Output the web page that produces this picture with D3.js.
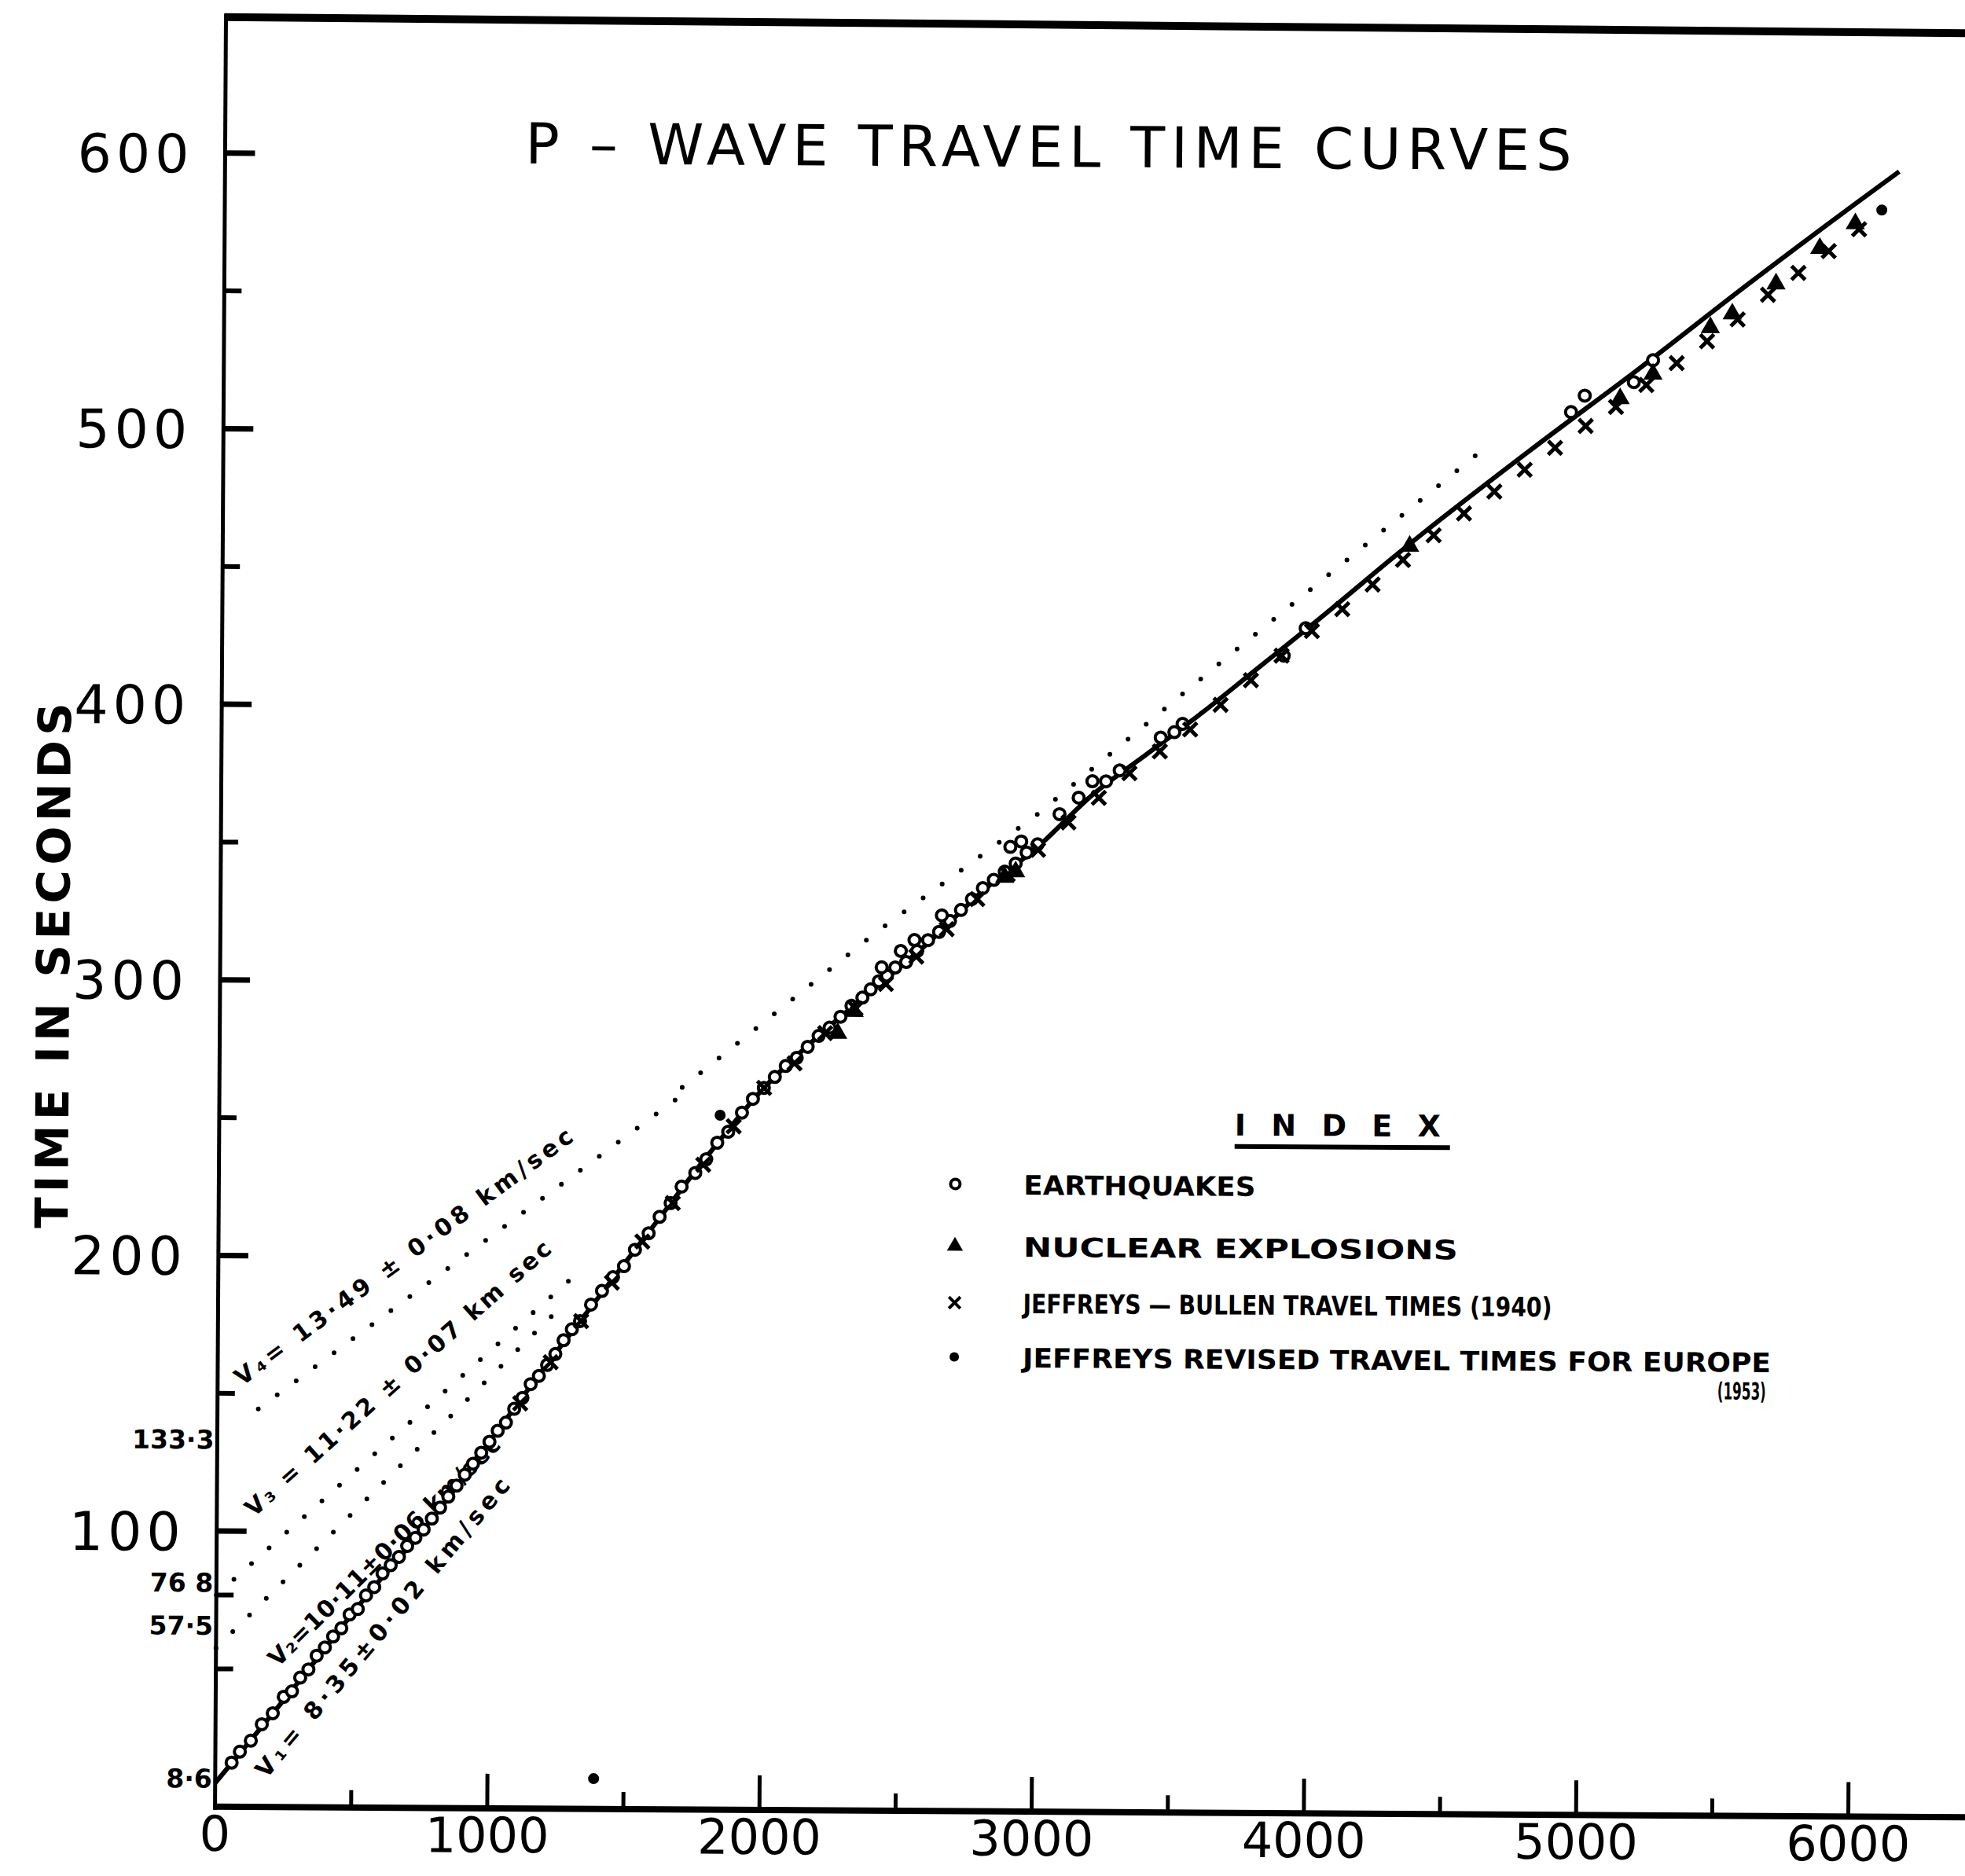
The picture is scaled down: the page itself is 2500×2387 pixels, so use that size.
<!DOCTYPE html>
<html>
<head>
<meta charset="utf-8">
<script src="https://cdn.jsdelivr.net/npm/d3@7"></script>
<style>
  html, body { margin: 0; padding: 0; background: #fff; }
  svg { display: block; }
</style>
</head>
<body>
<svg id="chart" width="2500" height="2387"></svg>
<script>
// ---- axis ticks and labels ----
const xTickValues = [0, 1000, 2000, 3000, 4000, 5000, 6000];
const xMinorTicks = [500, 1500, 2500, 3500, 4500, 5500];
const yTickValues = [100, 200, 300, 400, 500, 600];
const yMinorTicks = [50, 76.8, 150, 250, 350, 450, 550];
const interceptValues = [133.3, 76.8, 57.5, 8.6];
const interceptTexts = ["133·3", "76 8", "57·5", "8·6"];

// ---- segment velocities (km/sec) and intercept times (sec) ----
const segNames = ["V₁= 8·35±0·02 km/sec", "V₂=10·11±0·06 km/sec", "V₃ = 11·22 ± 0·07 km sec", "V₄= 13·49 ± 0·08 km/sec"];
const segVelocity = [8.35, 10.11, 11.22, 13.49];
const segIntercept = [8.6, 57.5, 76.8, 133.3];
const segDottedFrom = [null, 0, 0, 150];      // km where the dotted extension starts
const segDottedTo = [null, 1250, 1300, 1700];  // km where it ends
const segLabelDist = [188, 228, 136, 90];      // km at label start
const segLabelTime = [10, 50.5, 104.9, 152.5];
const segLabelLength = [486, 401, 510, 527];

// upper dotted trend (km, sec)
const trendDist = [1700, 2400, 3000, 3700, 4600];
const trendTime = [262, 318, 362, 420, 493];

// ---- fitted travel-time curve (km, sec) ----
const curveDist = [0, 300, 562, 800, 1000, 1200, 1400, 1600, 1800, 2000, 2200, 2400, 2600, 2800, 3000, 3200, 3400, 3600, 3800, 4000, 4400, 4800, 5200, 5600, 6000, 6150];
const curveTime = [8.6, 45, 78, 106, 133, 160, 186, 212, 238, 262, 281, 298, 315, 334, 350, 369, 384, 399, 415, 431, 464, 495, 525, 556, 586, 597];

// ---- observations ----
// earthquakes
const quakeDist = [60, 90, 130, 170, 210, 250, 280, 310, 340, 370, 400, 430, 460, 490, 520, 550, 580, 610, 640, 670, 700, 730, 760, 790, 820, 850, 880, 910, 940, 970, 1000, 1030, 1060, 1090, 1120, 1150, 1180, 1210, 1240, 1270, 1300, 1330, 1370, 1410, 1450, 1490, 1530, 1580, 1620, 1660, 1700, 1750, 1790, 1830, 1870, 1920, 1960, 2000, 2040, 2080, 2120, 2160, 2200, 2240, 2280, 2320, 2360, 2390, 2420, 2450, 2480, 2520, 2560, 2600, 2640, 2680, 2720, 2760, 2800, 2840, 2880, 2920, 2960, 3000,
  2430, 2500, 2550, 2650, 2900, 2940, 3080, 3150, 3200, 3250, 3300, 3450, 3500, 3530, 3900, 3980, 4950, 5000, 5180, 5250];
const quakeTime = [16, 20, 24, 30, 34, 40, 42, 47, 50, 55, 58, 62, 65, 70, 72, 77, 80, 85, 88, 91, 95, 98, 101, 105, 109, 113, 117, 121, 125, 129, 133, 137, 140, 145, 149, 154, 157, 161, 165, 170, 174, 177, 183, 188, 193, 197, 203, 209, 215, 220, 226, 231, 236, 242, 246, 253, 258, 262, 266, 270, 273, 277, 281, 284, 288, 292, 295, 298, 301, 303, 306, 308, 312, 316, 319, 323, 327, 331, 335, 338, 341, 344, 348, 351,
  306, 312, 316, 325, 350, 352, 362, 368, 374, 374, 378, 390, 392, 395, 420, 430, 509, 515, 520, 528];
// nuclear explosions
const nuclearDist = [2270, 2330, 2880, 2920, 4360, 5130, 5250, 5460, 5540, 5700, 5860, 5990];
const nuclearTime = [282, 290, 339, 341, 460, 514, 523, 540, 545, 556, 569, 578];
// Jeffreys-Bullen (1940)
const jbDist = [1112, 1223, 1334, 1446, 1557, 1668, 1779, 1890, 2001, 2112, 2224, 2335, 2446, 2557, 2668, 2780, 2891, 3002, 3113, 3224, 3336, 3447, 3558, 3669, 3780, 3892, 4003, 4114, 4225, 4336, 4448, 4559, 4670, 4781, 4892, 5004, 5115, 5226, 5337, 5448, 5560, 5671, 5782, 5893, 6004];
const jbTime = [147, 162, 177, 191, 206, 220, 234, 248, 262, 271, 282, 291, 300, 310, 320, 331, 340, 349, 359, 368, 377, 385, 393, 402, 411, 420, 429, 437, 446, 455, 464, 472, 480, 488, 496, 504, 511, 519, 527, 535, 543, 552, 560, 568, 576];
// Jeffreys revised, Europe (1953)
const europeDist = [1390, 1840, 6087];
const europeTime = [11, 252, 583];

const legendTexts = ["EARTHQUAKES", "NUCLEAR  EXPLOSIONS", "JEFFREYS — BULLEN  TRAVEL  TIMES (1940)", "JEFFREYS  REVISED  TRAVEL  TIMES  FOR  EUROPE"];

// ---- drawing ----
const svg = d3.select("#chart");
svg.append("rect").attr("width", 2500).attr("height", 2387).attr("fill", "#fff");

const x = d3.scaleLinear().domain([0, 6000]).range([280, 2358]);
const y = d3.scaleLinear().domain([0, 600]).range([2305, 201]);

// the whole sheet sits a touch off square
const g = svg.append("g").attr("transform", "rotate(0.35,1300,1250)");

const ink = "#000";
const font = "'DejaVu Sans', sans-serif";

// frame: top rule, left axis, bottom axis
g.append("line").attr("x1", x(0) - 2).attr("y1", 28).attr("x2", 2540).attr("y2", 35)
  .attr("stroke", ink).attr("stroke-width", 10);
g.append("line").attr("x1", x(0)).attr("y1", 24).attr("x2", x(0)).attr("y2", y(0) + 4)
  .attr("stroke", ink).attr("stroke-width", 5);
g.append("line").attr("x1", x(0) - 2).attr("y1", y(0)).attr("x2", 2540).attr("y2", y(0))
  .attr("stroke", ink).attr("stroke-width", 8);

// y ticks (drawn inward)
g.selectAll(".ytick").data(yTickValues).join("line")
  .attr("x1", x(0)).attr("x2", x(0) + 38).attr("y1", d => y(d)).attr("y2", d => y(d))
  .attr("stroke", ink).attr("stroke-width", 7);
g.selectAll(".ymtick").data(yMinorTicks).join("line")
  .attr("x1", x(0)).attr("x2", x(0) + 22).attr("y1", d => y(d)).attr("y2", d => y(d))
  .attr("stroke", ink).attr("stroke-width", 6);
g.selectAll(".ylab").data(yTickValues).join("text")
  .attr("x", x(0) - 40).attr("y", d => y(d) + 25)
  .attr("text-anchor", "end").attr("font-family", font).attr("font-size", 68)
  .attr("letter-spacing", 6).attr("fill", ink).text(d => d);
const interceptNudge = [0, -16, -29, -6];
g.selectAll(".ilab").data(interceptValues).join("text")
  .attr("x", x(0) - 4).attr("y", (d, i) => y(d) + 12 + interceptNudge[i])
  .attr("text-anchor", "end").attr("font-family", font).attr("font-weight", "bold")
  .attr("font-size", 33).attr("fill", ink).text((d, i) => interceptTexts[i]);

// x ticks (drawn upward)
g.selectAll(".xtick").data(xTickValues.slice(1)).join("line")
  .attr("x1", d => x(d)).attr("x2", d => x(d)).attr("y1", y(0)).attr("y2", y(0) - 44)
  .attr("stroke", ink).attr("stroke-width", 5);
g.selectAll(".xmtick").data(xMinorTicks).join("line")
  .attr("x1", d => x(d)).attr("x2", d => x(d)).attr("y1", y(0)).attr("y2", y(0) - 22)
  .attr("stroke", ink).attr("stroke-width", 5);
g.selectAll(".xlab").data(xTickValues).join("text")
  .attr("x", d => x(d)).attr("y", y(0) + 56)
  .attr("text-anchor", "middle").attr("font-family", font).attr("font-size", 62)
  .attr("fill", ink).text(d => d);

// axis title and chart title
g.append("text").attr("transform", "translate(88,1236) rotate(-90)")
  .attr("text-anchor", "middle").attr("font-family", font).attr("font-weight", "bold")
  .attr("font-size", 58).attr("textLength", 669).attr("lengthAdjust", "spacing")
  .attr("fill", ink).text("TIME IN SECONDS");
g.append("text").attr("x", 662).attr("y", 212)
  .attr("font-family", font).attr("font-size", 72)
  .attr("textLength", 1331).attr("lengthAdjust", "spacing")
  .attr("fill", ink).text("P – WAVE  TRAVEL  TIME  CURVES");

// dotted extensions of the straight segments
const dotted = (pts) => g.append("path").attr("d", d3.line()(pts))
  .attr("fill", "none").attr("stroke", ink).attr("stroke-width", 6)
  .attr("stroke-linecap", "round").attr("stroke-dasharray", "0 30");
segVelocity.forEach((v, i) => {
  if (segDottedFrom[i] === null) return;
  const d0 = segDottedFrom[i], d1 = segDottedTo[i];
  dotted([[x(d0), y(segIntercept[i] + d0 / v)], [x(d1), y(segIntercept[i] + d1 / v)]]);
});
dotted(trendDist.map((d, i) => [x(d), y(trendTime[i])]));

// segment labels along their lines
segVelocity.forEach((v, i) => {
  const ang = Math.atan2(y(segIntercept[i] + 1000 / v) - y(segIntercept[i]), x(1000) - x(0)) * 180 / Math.PI;
  const px = x(segLabelDist[i]), py = y(segLabelTime[i]);
  g.append("text").attr("transform", `translate(${px},${py}) rotate(${ang})`)
    .attr("font-family", font).attr("font-weight", "bold").attr("font-size", 30)
    .attr("textLength", segLabelLength[i]).attr("lengthAdjust", "spacing")
    .attr("fill", ink).text(segNames[i]);
});

// fitted curve
g.append("path")
  .attr("d", d3.line().curve(d3.curveMonotoneX)(curveDist.map((d, i) => [x(d), y(curveTime[i])])))
  .attr("fill", "none").attr("stroke", ink).attr("stroke-width", 6);

// observations
g.selectAll(".quake").data(quakeDist).join("circle")
  .attr("cx", d => x(d)).attr("cy", (d, i) => y(quakeTime[i])).attr("r", 7)
  .attr("fill", "#fff").attr("stroke", ink).attr("stroke-width", 4);
const tri = d3.symbol().type(d3.symbolTriangle).size(260);
g.selectAll(".nuke").data(nuclearDist).join("path")
  .attr("transform", (d, i) => `translate(${x(d)},${y(nuclearTime[i])})`)
  .attr("d", tri).attr("fill", ink);
const cross = d3.symbol().type(d3.symbolX).size(200);
g.selectAll(".jb").data(jbDist).join("path")
  .attr("transform", (d, i) => `translate(${x(d)},${y(jbTime[i])})`)
  .attr("d", cross).attr("fill", "none").attr("stroke", ink).attr("stroke-width", 5);
g.selectAll(".eu").data(europeDist).join("circle")
  .attr("cx", d => x(d)).attr("cy", (d, i) => y(europeTime[i])).attr("r", 7).attr("fill", ink);

// index
const lg = g.append("g");
lg.append("text").attr("x", 1572).attr("y", 1443)
  .attr("font-family", font).attr("font-weight", "bold").attr("font-size", 38)
  .attr("textLength", 262).attr("lengthAdjust", "spacing").attr("fill", ink).text("I N D E X");
lg.append("line").attr("x1", 1572).attr("x2", 1846).attr("y1", 1457).attr("y2", 1457)
  .attr("stroke", ink).attr("stroke-width", 6);
const rowY = [1507, 1586, 1658, 1727];
const rowLen = [295, 553, 673, 952];
legendTexts.forEach((t, i) => {
  lg.append("text").attr("x", 1304).attr("y", rowY[i] + 13)
    .attr("font-family", font).attr("font-weight", "bold").attr("font-size", 34)
    .attr("textLength", rowLen[i]).attr("lengthAdjust", "spacingAndGlyphs").attr("fill", ink).text(t);
});
lg.append("text").attr("x", 2250).attr("y", 1775).attr("text-anchor", "end")
  .attr("font-family", font).attr("font-weight", "bold").attr("font-size", 30)
  .attr("textLength", 62).attr("lengthAdjust", "spacingAndGlyphs")
  .attr("fill", ink).text("(1953)");
lg.append("circle").attr("cx", 1217).attr("cy", rowY[0]).attr("r", 6)
  .attr("fill", "#fff").attr("stroke", ink).attr("stroke-width", 4);
lg.append("path").attr("transform", `translate(1217,${rowY[1]})`)
  .attr("d", d3.symbol().type(d3.symbolTriangle).size(180)).attr("fill", ink);
lg.append("path").attr("transform", `translate(1217,${rowY[2]})`)
  .attr("d", d3.symbol().type(d3.symbolX).size(140)).attr("fill", "none").attr("stroke", ink).attr("stroke-width", 4);
lg.append("circle").attr("cx", 1217).attr("cy", rowY[3]).attr("r", 6).attr("fill", ink);
</script>
</body>
</html>
